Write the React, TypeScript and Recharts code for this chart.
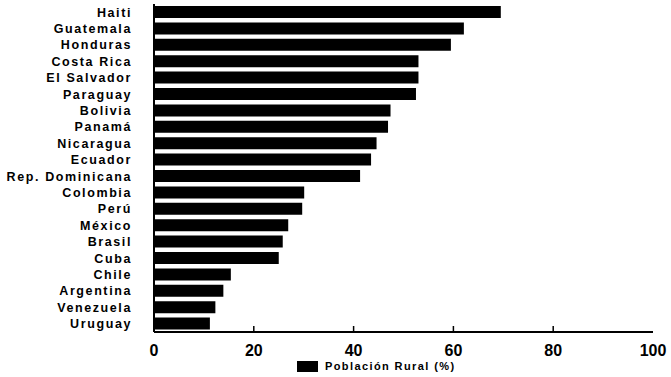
import { BarChart, Bar, XAxis, YAxis, Legend } from 'recharts'

const countries = [
  'Haiti', 'Guatemala', 'Honduras', 'Costa Rica', 'El Salvador', 'Paraguay', 'Bolivia',
  'Panamá', 'Nicaragua', 'Ecuador', 'Rep. Dominicana', 'Colombia', 'Perú', 'México',
  'Brasil', 'Cuba', 'Chile', 'Argentina', 'Venezuela', 'Uruguay',
]
const ruralPct = [
  69.5, 62.1, 59.5, 53.0, 53.0, 52.5, 47.4, 46.9, 44.6, 43.5, 41.3,
  30.1, 29.7, 26.9, 25.8, 25.0, 15.4, 13.9, 12.3, 11.2,
]
const xTicks = [0, 20, 40, 60, 80, 100]

const data = countries.map((name, i) => ({ name, rural: ruralPct[i] }))

const FONT = '"Liberation Sans", Arial, sans-serif'
const TICK_MARGIN = 13

const XTick = ({ x, y, payload }: { x: number; y: number; payload: { value: number } }) => {
  const axisY = y - TICK_MARGIN
  const inner = payload.value > 0 && payload.value < 100
  return (
    <g>
      {inner && <line x1={x} x2={x} y1={axisY} y2={axisY - 6} stroke="#000" strokeWidth={1.5} />}
      <text x={x} y={y} dy="0.71em" textAnchor="middle" fontFamily={FONT} fontWeight={700} fontSize={16} fill="#000">
        {payload.value}
      </text>
    </g>
  )
}

const LegendContent = () => (
  <div style={{ display: 'flex', alignItems: 'center', marginLeft: 297, fontFamily: FONT, fontWeight: 700, fontSize: 11, letterSpacing: 1.4 }}>
    <span style={{ display: 'inline-block', width: 21, height: 11, background: '#000', marginRight: 7 }} />
    <span>Población Rural (%)</span>
  </div>
)

export default function App() {
  return (
    <div style={{ position: 'absolute', left: 0, top: 0, background: '#fff' }}>
      <BarChart
        width={671}
        height={377}
        data={data}
        layout="vertical"
        margin={{ top: 4, right: 18, bottom: 0, left: 0 }}
        barSize={12}
      >
        <XAxis
          type="number"
          domain={[0, 100]}
          ticks={xTicks}
          height={28}
          tickSize={0}
          tickMargin={TICK_MARGIN}
          tick={XTick}
          axisLine={{ stroke: '#000', strokeWidth: 2 }}
        />
        <XAxis xAxisId="top" orientation="top" type="number" domain={[0, 100]} height={0} tick={false} tickLine={false} axisLine={{ stroke: '#000', strokeWidth: 2 }} />
        <YAxis
          type="category"
          dataKey="name"
          width={154}
          interval={0}
          tickLine={false}
          tickMargin={16}
          axisLine={{ stroke: '#000', strokeWidth: 2 }}
          tick={{ fill: '#000', fontFamily: FONT, fontWeight: 700, fontSize: 12.5, letterSpacing: 1.6 }}
        />
        <YAxis yAxisId="right" orientation="right" type="category" dataKey="name" width={0} tick={false} tickLine={false} axisLine={{ stroke: '#000', strokeWidth: 2 }} />
        <Legend verticalAlign="bottom" align="left" height={17} content={LegendContent} />
        <Bar dataKey="rural" fill="#000" isAnimationActive={false} />
      </BarChart>
    </div>
  )
}
